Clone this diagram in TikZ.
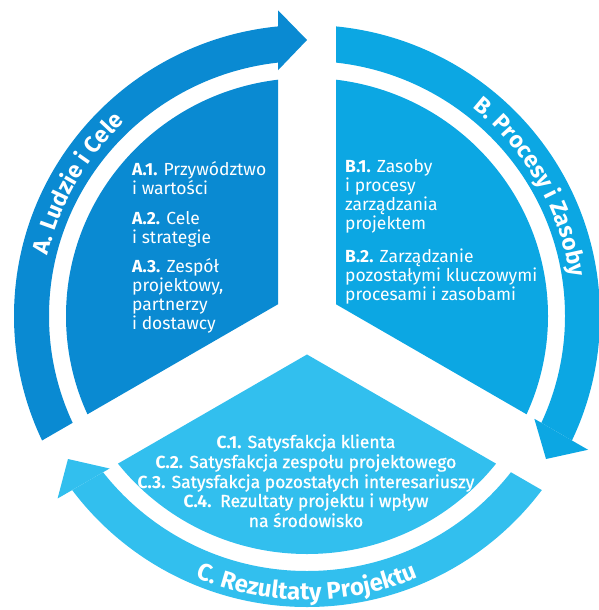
\documentclass[tikz,border=0pt]{standalone}
\usepackage{fontspec}
\setmainfont{Fira Sans}
\newfontface\medfont{Fira Sans}[FakeBold=1]
\usetikzlibrary{calc,decorations.text}

\definecolor{colA}{RGB}{10,138,210}
\definecolor{colB}{RGB}{12,167,227}
\definecolor{colC}{RGB}{50,191,238}

\newcommand\bodyfont{\fontsize{17.5}{20}\selectfont}
\newcommand\cfont{\medfont\fontsize{17.5}{20}\selectfont}
\newcommand\clab[1]{{\normalfont\bfseries #1}}
\newcommand\titlefont{\bfseries\fontsize{23}{23}\selectfont\color{white}}
\newcommand\ctitlefont{\bfseries\fontsize{24}{24}\selectfont\color{white}}

\begin{document}
\begin{tikzpicture}[x=1pt,y=1pt,
  lineA/.style={text=white, inner sep=0pt, anchor=base west, font=\bodyfont},
  lineC/.style={text=white, inner sep=0pt, anchor=base, font=\cfont},
  arctitle/.style={decorate, decoration={text along path, text align=center, text={#1}}}]
\useasboundingbox (0,0) rectangle (599,-610);

% circle centre, meeting point of the white gaps and the three wedge tips
\coordinate (O) at (307,-316);
\coordinate (G) at (307,-321);
\coordinate (VA) at ($(G)+(150:33.49)$);
\coordinate (VB) at ($(G)+(30:33.49)$);
\coordinate (VC) at ($(G)+(270:33.49)$);

% section A: sector and ring body
\begin{scope}
  \clip (VA) -- +(90:700) -- +(150:900) -- +(210:700) -- cycle;
  \fill[colA] (O) ellipse [x radius=241pt, y radius=238pt];
  \fill[colA, even odd rule] (O) ellipse [x radius=293pt, y radius=291pt]
                             (O) ellipse [x radius=258pt, y radius=255pt];
\end{scope}
% section B
\begin{scope}
  \clip (VB) -- +(90:700) -- +(30:900) -- +(-30:700) -- cycle;
  \fill[colB] (O) ellipse [x radius=241pt, y radius=238pt];
  \fill[colB, even odd rule] (O) ellipse [x radius=293pt, y radius=291pt]
                             (O) ellipse [x radius=258pt, y radius=255pt];
\end{scope}
% section C
\begin{scope}
  \clip (VC) -- +(210:700) -- +(270:900) -- +(330:700) -- cycle;
  \fill[colC] (O) ellipse [x radius=241pt, y radius=238pt];
  \fill[colC, even odd rule] (O) ellipse [x radius=293pt, y radius=291pt]
                             (O) ellipse [x radius=258pt, y radius=255pt];
\end{scope}

% arrow heads pointing into the gaps
\fill[colA] ($(VA)+(90:234)$) -- ($(VA)+(90:294)$) -- ($(G)+(90:281)$) -- cycle;
\fill[colB] ($(VB)+(-30:229)$) -- ($(VB)+(-30:291)$) -- ($(G)+(-30:276)$) -- cycle;
\fill[colC] ($(VC)+(210:228)$) -- ($(VC)+(210:288)$) -- ($(G)+(210:276)$) -- cycle;

% ring titles
\path[arctitle={|\titlefont|A. Ludzie i Cele}]
  ([shift={(190:266pt)}]O) arc[start angle=190, end angle=110, radius=266pt];
\path[arctitle={|\titlefont|B. Procesy i Zasoby}]
  ([shift={(70:266pt)}]O) arc[start angle=70, end angle=-10, radius=266pt];
\path[arctitle={|\ctitlefont|C. Rezultaty Projektu}]
  ([shift={(230:284pt)}]O) arc[start angle=230, end angle=310, radius=284pt];

% section A text
\node[lineA] (a1)  at (132,-175) {\textbf{A.1.} Przywództwo};
\node[lineA] (a1b) at (132,-194) {i wartości};
\node[lineA] (a2)  at (132,-224) {\textbf{A.2.} Cele};
\node[lineA] (a2b) at (132,-243) {i strategie};
\node[lineA] (a3)  at (132,-272) {\textbf{A.3.} Zespół};
\node[lineA] (a3b) at (132,-291) {projektowy,};
\node[lineA] (a3c) at (132,-310) {partnerzy};
\node[lineA] (a3d) at (132,-329) {i dostawcy};

% section B text
\node[lineA] (b1)  at (345,-172) {\textbf{B.1.} Zasoby};
\node[lineA] (b1b) at (345,-191) {i procesy};
\node[lineA] (b1c) at (345,-210) {zarządzania};
\node[lineA] (b1d) at (345,-229) {projektem};
\node[lineA] (b2)  at (345,-262) {\textbf{B.2.} Zarządzanie};
\node[lineA] (b2b) at (345,-281) {pozostałymi kluczowymi};
\node[lineA] (b2c) at (345,-300) {procesami i zasobami};

% section C text
\node[lineC] (c1)  at (306,-448) {\clab{C.1.} Satysfakcja klienta};
\node[lineC] (c2)  at (306,-468) {\clab{C.2.} Satysfakcja zespołu projektowego};
\node[lineC] (c3)  at (306,-488) {\clab{C.3.} Satysfakcja pozostałych interesariuszy};
\node[lineC] (c4)  at (306,-507) {\clab{C.4.}\enspace Rezultaty projektu i wpływ};
\node[lineC] (c4b) at (306,-527) {na środowisko};
\end{tikzpicture}
\end{document}
